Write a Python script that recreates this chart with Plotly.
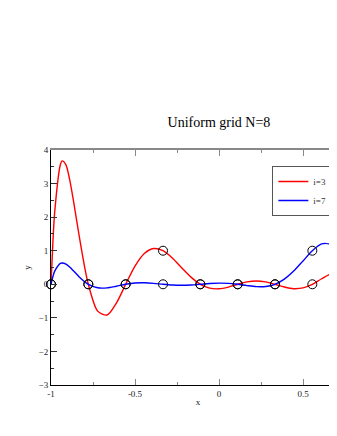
"""Lagrange basis functions on a uniform grid (N=8)."""

import plotly.graph_objects as go

# sample points along x
x_curve = [-1.0, -0.9889, -0.9778, -0.9444, -0.9333, -0.9111, -0.8889, -0.8667,
           -0.8333, -0.8, -0.7778, -0.7222, -0.6667, -0.6111, -0.5556, -0.5,
           -0.4444, -0.3889, -0.3333, -0.2778, -0.2222, -0.1667, -0.1111, -0.0556,
           0.0, 0.0556, 0.1111, 0.1667, 0.2222, 0.2778, 0.3333, 0.3889, 0.4444,
           0.5, 0.5556, 0.6111, 0.6667, 0.7222, 0.7778]
y_i3 = [0.0, 1.234, 2.165, 3.561, 3.677, 3.556, 3.116, 2.500,
        1.471, 0.521, 0.0, -0.799, -0.916, -0.562, 0.0, 0.542,
        0.916, 1.065, 1.0, 0.782, 0.493, 0.213, 0.0, -0.116,
        -0.135, -0.083, 0.0, 0.071, 0.099, 0.071, 0.0, -0.082, -0.131,
        -0.108, 0.0, 0.165, 0.306, 0.295, 0.0]
y_i7 = [0.0, 0.224, 0.390, 0.622, 0.635, 0.600, 0.514, 0.402,
        0.227, 0.077, 0.0, -0.104, -0.107, -0.057, 0.0, 0.037,
        0.044, 0.027, 0.0, -0.022, -0.030, -0.021, 0.0, 0.023,
        0.035, 0.028, 0.0, -0.039, -0.071, -0.067, 0.0, 0.152, 0.393,
        0.696, 1.0, 1.203, 1.178, 0.799, 0.0]

# grid nodes
node_x = [-1.0, -0.7778, -0.5556, -0.3333, -0.1111, 0.1111, 0.3333, 0.5556]
node_i3 = [0, 0, 0, 1, 0, 0, 0, 0]
node_i7 = [0, 0, 0, 0, 0, 0, 0, 1]

x_ticks = [-1, -0.5, 0, 0.5]
x_tick_labels = ["-1", "-0.5", "0", "0.5"]
y_ticks = [-3, -2, -1, 0, 1, 2, 3, 4]

FONT = "Liberation Serif"

fig = go.Figure()
fig.add_trace(go.Scatter(x=x_curve, y=y_i3, mode='lines', name='i=3',
                         line={'color': '#ff0000', 'width': 1.4, 'shape': 'spline', 'smoothing': 0.8}))
fig.add_trace(go.Scatter(x=x_curve, y=y_i7, mode='lines', name='i=7',
                         line={'color': '#0000ff', 'width': 1.4, 'shape': 'spline', 'smoothing': 0.8}))
for ys in (node_i3, node_i7):
    fig.add_trace(go.Scatter(x=node_x, y=ys, mode='markers', showlegend=False,
                             marker={'symbol': 'circle-open', 'size': 9, 'color': 'black',
                                     'line': {'width': 1.0, 'color': 'black'}},
                             cliponaxis=False))
# dummy trace so the top (mirror) axis is drawn in grey
fig.add_trace(go.Scatter(x=[None], y=[None], xaxis='x2', showlegend=False, hoverinfo='skip'))

fig.update_layout(
    width=337, height=436,
    margin={'l': 43, 'r': 0, 't': 142, 'b': 59, 'autoexpand': False},
    paper_bgcolor='white', plot_bgcolor='white',
    font={'family': FONT, 'color': '#222222', 'size': 9},
    title={'text': 'Uniform grid N=8', 'x': 0.626, 'xanchor': 'center',
           'y': 0.738, 'yanchor': 'middle', 'yref': 'container',
           'font': {'family': FONT, 'size': 14, 'color': 'black'}},
    showlegend=True,
    legend={'x': 0.957, 'xanchor': 'right', 'y': 0.932, 'yanchor': 'top',
            'bgcolor': 'white', 'bordercolor': '#555555', 'borderwidth': 1,
            'font': {'family': FONT, 'size': 9, 'color': '#333333'},
            'itemwidth': 30, 'tracegroupgap': 0},
    xaxis={'range': [-1, 0.75], 'tickvals': x_ticks, 'ticktext': x_tick_labels,
           'automargin': False,
           'ticks': 'inside', 'ticklen': 6, 'tickcolor': '#888888', 'tickwidth': 1,
           'minor': {'ticks': 'inside', 'dtick': 0.25, 'tick0': -1, 'ticklen': 3,
                     'tickcolor': '#888888'},
           'showline': True, 'linecolor': 'black', 'linewidth': 1,
           'showgrid': False, 'zeroline': False,
           'title': {'text': 'x', 'standoff': 0, 'font': {'size': 9}},
           'tickfont': {'size': 9}},
    xaxis2={'overlaying': 'x', 'side': 'top', 'matches': 'x', 'automargin': False,
            'tickvals': x_ticks, 'showticklabels': False,
            'ticks': 'inside', 'ticklen': 6, 'tickcolor': '#888888',
            'minor': {'ticks': 'inside', 'dtick': 0.25, 'tick0': -1, 'ticklen': 3,
                      'tickcolor': '#888888'},
            'showline': True, 'linecolor': '#888888', 'linewidth': 1.5,
            'showgrid': False, 'zeroline': False},
    yaxis={'range': [-3, 4], 'tickvals': y_ticks, 'automargin': False,
           'ticks': 'inside', 'ticklen': 6, 'tickcolor': '#333333', 'tickwidth': 1,
           'minor': {'ticks': 'inside', 'dtick': 0.5, 'ticklen': 3, 'tickcolor': '#333333'},
           'showline': True, 'linecolor': 'black', 'linewidth': 1,
           'showgrid': False, 'zeroline': False,
           'title': {'text': 'y', 'standoff': 6, 'font': {'size': 9}},
           'tickfont': {'size': 9}},
)

fig.write_html("out.html")
